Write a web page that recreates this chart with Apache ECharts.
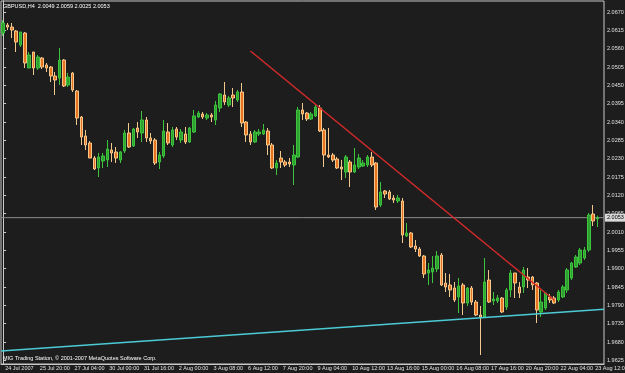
<!DOCTYPE html>
<html>
<head>
<meta charset="utf-8">
<script src="https://cdn.jsdelivr.net/npm/echarts@6/dist/echarts.min.js"></script>
<style>
  html, body { margin: 0; padding: 0; background: #1d1d1d; }
  #chart { width: 625px; height: 373px; }
</style>
</head>
<body>
<div id="chart"></div>
<script>
// GBPUSD H4, 24 Jul - 23 Aug 2007
const tickLabels = ['24 Jul 2007', '25 Jul 20:00', '27 Jul 04:00', '30 Jul 00:00', '31 Jul 16:00', '2 Aug 00:00',
  '3 Aug 08:00', '6 Aug 12:00', '7 Aug 20:00', '9 Aug 04:00', '10 Aug 12:00', '13 Aug 16:00', '15 Aug 00:00',
  '16 Aug 08:00', '17 Aug 16:00', '20 Aug 20:00', '22 Aug 04:00', '23 Aug 12:00']

const opens = [
  2.0607, 2.0631, 2.0625, 2.0613, 2.0571, 2.0607, 2.0502, 2.0550, 2.0502, 2.0532,
  2.0511, 2.0505, 2.0478, 2.0472, 2.0526, 2.0451, 2.0487, 2.0433, 2.0355, 2.0298,
  2.0277, 2.0232, 2.0202, 2.0223, 2.0226, 2.0256, 2.0250, 2.0226, 2.0253, 2.0307,
  2.0268, 2.0322, 2.0307, 2.0346, 2.0292, 2.0286, 2.0220, 2.0238, 2.0310, 2.0271,
  2.0319, 2.0286, 2.0304, 2.0280, 2.0310, 2.0355, 2.0364, 2.0352, 2.0361, 2.0346,
  2.0382, 2.0421, 2.0391, 2.0421, 2.0406, 2.0430, 2.0340, 2.0304, 2.0280, 2.0304,
  2.0304, 2.0313, 2.0271, 2.0202, 2.0232, 2.0220, 2.0220, 2.0211, 2.0235, 2.0376,
  2.0367, 2.0349, 2.0358, 2.0382, 2.0316, 2.0241, 2.0241, 2.0229, 2.0205, 2.0190,
  2.0220, 2.0190, 2.0205, 2.0208, 2.0211, 2.0235, 2.0217, 2.0091, 2.0133, 2.0130,
  2.0112, 2.0103, 2.0103, 1.9998, 2.0007, 1.9968, 1.9959, 1.9938, 1.9887, 1.9890,
  1.9899, 1.9941, 1.9857, 1.9851, 1.9842, 1.9815, 1.9851, 1.9797, 1.9842, 1.9800,
  1.9761, 1.9755, 1.9866, 1.9803, 1.9803, 1.9812, 1.9785, 1.9836, 1.9887, 1.9845,
  1.9845, 1.9875, 1.9875, 1.9857, 1.9770, 1.9782, 1.9815, 1.9812, 1.9806, 1.9815,
  1.9836, 1.9872, 1.9905, 1.9917, 1.9932, 1.9956, 2.0064, 2.0049
]
const closes = [
  2.0637, 2.0625, 2.0616, 2.0580, 2.0610, 2.0517, 2.0541, 2.0502, 2.0535, 2.0505,
  2.0502, 2.0478, 2.0466, 2.0526, 2.0448, 2.0475, 2.0436, 2.0352, 2.0295, 2.0271,
  2.0232, 2.0199, 2.0235, 2.0238, 2.0259, 2.0247, 2.0232, 2.0250, 2.0307, 2.0265,
  2.0319, 2.0310, 2.0346, 2.0292, 2.0283, 2.0217, 2.0241, 2.0313, 2.0277, 2.0316,
  2.0295, 2.0310, 2.0280, 2.0322, 2.0358, 2.0367, 2.0355, 2.0361, 2.0355, 2.0391,
  2.0424, 2.0400, 2.0412, 2.0412, 2.0430, 2.0337, 2.0301, 2.0280, 2.0310, 2.0310,
  2.0316, 2.0271, 2.0202, 2.0217, 2.0220, 2.0211, 2.0214, 2.0241, 2.0376, 2.0364,
  2.0349, 2.0364, 2.0385, 2.0313, 2.0241, 2.0235, 2.0226, 2.0202, 2.0199, 2.0235,
  2.0190, 2.0211, 2.0232, 2.0217, 2.0235, 2.0211, 2.0085, 2.0130, 2.0124, 2.0109,
  2.0106, 2.0112, 2.0001, 2.0007, 1.9965, 1.9959, 1.9938, 1.9884, 1.9896, 1.9902,
  1.9938, 1.9851, 1.9845, 1.9836, 1.9806, 1.9848, 1.9797, 1.9842, 1.9800, 1.9761,
  1.9755, 1.9860, 1.9800, 1.9809, 1.9812, 1.9770, 1.9836, 1.9887, 1.9857, 1.9827,
  1.9896, 1.9866, 1.9851, 1.9776, 1.9800, 1.9827, 1.9806, 1.9797, 1.9830, 1.9845,
  1.9896, 1.9917, 1.9935, 1.9956, 1.9956, 2.0061, 2.0043, 2.0053
]
const lows = [
  2.0598, 2.0616, 2.0592, 2.0550, 2.0565, 2.0502, 2.0502, 2.0481, 2.0496, 2.0499,
  2.0490, 2.0460, 2.0421, 2.0451, 2.0445, 2.0445, 2.0430, 2.0331, 2.0271, 2.0256,
  2.0232, 2.0196, 2.0175, 2.0202, 2.0205, 2.0220, 2.0217, 2.0217, 2.0247, 2.0262,
  2.0265, 2.0292, 2.0280, 2.0280, 2.0274, 2.0211, 2.0199, 2.0232, 2.0271, 2.0265,
  2.0286, 2.0277, 2.0274, 2.0277, 2.0307, 2.0352, 2.0349, 2.0346, 2.0340, 2.0331,
  2.0370, 2.0391, 2.0385, 2.0385, 2.0400, 2.0325, 2.0280, 2.0271, 2.0277, 2.0298,
  2.0301, 2.0241, 2.0199, 2.0181, 2.0202, 2.0205, 2.0205, 2.0151, 2.0232, 2.0346,
  2.0343, 2.0346, 2.0355, 2.0310, 2.0205, 2.0232, 2.0220, 2.0199, 2.0166, 2.0172,
  2.0145, 2.0187, 2.0199, 2.0205, 2.0205, 2.0205, 2.0076, 2.0085, 2.0112, 2.0106,
  2.0097, 2.0097, 1.9977, 1.9995, 1.9962, 1.9950, 1.9935, 1.9872, 1.9851, 1.9857,
  1.9890, 1.9848, 1.9830, 1.9815, 1.9800, 1.9767, 1.9761, 1.9788, 1.9791, 1.9758,
  1.9641, 1.9755, 1.9797, 1.9791, 1.9797, 1.9767, 1.9776, 1.9815, 1.9812, 1.9812,
  1.9827, 1.9842, 1.9836, 1.9737, 1.9755, 1.9776, 1.9797, 1.9794, 1.9800, 1.9812,
  1.9827, 1.9866, 1.9902, 1.9911, 1.9926, 1.9950, 2.0028, 2.0025
]
const highs = [
  2.0646, 2.0637, 2.0637, 2.0616, 2.0610, 2.0610, 2.0550, 2.0550, 2.0541, 2.0535,
  2.0517, 2.0508, 2.0490, 2.0562, 2.0529, 2.0487, 2.0490, 2.0436, 2.0358, 2.0316,
  2.0283, 2.0238, 2.0247, 2.0247, 2.0286, 2.0277, 2.0265, 2.0253, 2.0316, 2.0337,
  2.0322, 2.0340, 2.0373, 2.0355, 2.0307, 2.0292, 2.0250, 2.0346, 2.0337, 2.0325,
  2.0325, 2.0319, 2.0325, 2.0325, 2.0376, 2.0373, 2.0370, 2.0367, 2.0367, 2.0403,
  2.0427, 2.0460, 2.0418, 2.0442, 2.0436, 2.0457, 2.0343, 2.0313, 2.0316, 2.0319,
  2.0334, 2.0322, 2.0277, 2.0226, 2.0253, 2.0226, 2.0232, 2.0271, 2.0385, 2.0397,
  2.0370, 2.0370, 2.0391, 2.0391, 2.0322, 2.0322, 2.0247, 2.0235, 2.0226, 2.0241,
  2.0226, 2.0262, 2.0244, 2.0226, 2.0241, 2.0250, 2.0220, 2.0160, 2.0136, 2.0136,
  2.0121, 2.0121, 2.0112, 2.0037, 2.0010, 1.9986, 1.9965, 1.9941, 1.9917, 1.9938,
  1.9953, 1.9947, 1.9887, 1.9884, 1.9860, 1.9872, 1.9857, 1.9845, 1.9848, 1.9806,
  1.9788, 1.9932, 1.9896, 1.9830, 1.9821, 1.9815, 1.9842, 1.9896, 1.9887, 1.9860,
  1.9905, 1.9902, 1.9878, 1.9860, 1.9836, 1.9830, 1.9824, 1.9818, 1.9836, 1.9851,
  1.9902, 1.9920, 1.9941, 1.9962, 1.9965, 2.0067, 2.0091, 2.0059
]

const priceTicks = [1.9625, 1.9680, 1.9735, 1.9790, 1.9845, 1.9900, 1.9955, 2.0010, 2.0065, 2.0120,
  2.0175, 2.0230, 2.0285, 2.0340, 2.0395, 2.0450, 2.0505, 2.0560, 2.0615, 2.0670]

const lastPrice = 2.0053
const priceLine = [[-0.5, lastPrice], [138.5, lastPrice]]
const redTrend = [[57, 2.0553], [127, 1.9806]]
const cyanTrend = [[-0.5, 1.9653], [138.5, 1.9778]]

const slots = opens.length + 1 // one empty slot at the right edge
const categories = []
for (let i = 0; i < slots; i++) {
  categories.push(i % 8 === 0 && tickLabels[i / 8] ? tickLabels[i / 8] : '')
}
const candles = opens.map((o, i) => [o, closes[i], lows[i], highs[i]])

const fontFamily = 'Liberation Sans'
const axisColor = '#c8c8c8'

const chart = echarts.init(document.getElementById('chart'))
chart.setOption({
  backgroundColor: '#1d1d1d',
  animation: false,
  title: [
    {
      text: 'GBPUSD,H4  2.0049 2.0059 2.0025 2.0053',
      left: 3, top: 3, padding: 0,
      textStyle: { color: '#ffffff', fontSize: 5.5, fontWeight: 'normal', fontFamily }
    },
    {
      text: 'MIG Trading Station, © 2001-2007 MetaQuotes Software Corp.',
      left: 3, top: 355, padding: 0,
      textStyle: { color: '#ffffff', fontSize: 5.5, fontWeight: 'normal', fontFamily }
    }
  ],
  grid: {
    left: 1, right: 21, top: 1, bottom: 9,
    outerBoundsMode: 'none',
    containLabel: false,
    show: true, borderColor: axisColor, borderWidth: 1
  },
  xAxis: [
    {
      type: 'category',
      data: categories,
      boundaryGap: true,
      axisLine: { lineStyle: { color: axisColor } },
      axisTick: { alignWithLabel: true, interval: 7, length: 3, lineStyle: { color: axisColor } },
      axisLabel: {
        interval: 7, align: 'left', margin: 1, padding: [0, 0, 0, 2],
        color: '#e0e0e0', fontSize: 5.5, fontFamily
      },
      splitLine: { show: false }
    },
    { type: 'value', min: -0.5, max: 138.5, show: false }
  ],
  yAxis: {
    type: 'value',
    position: 'right',
    min: 1.9614,
    max: 2.0703,
    scale: true,
    axisLine: { show: true, lineStyle: { color: axisColor } },
    axisTick: { show: true, length: 3, customValues: priceTicks, lineStyle: { color: axisColor } },
    axisLabel: {
      customValues: priceTicks, margin: 3,
      color: '#e0e0e0', fontSize: 5.5, fontFamily,
      formatter: v => v.toFixed(4)
    },
    splitLine: { show: false }
  },
  series: [
    {
      type: 'line',
      xAxisIndex: 1,
      data: priceLine,
      symbol: 'none',
      silent: true,
      z: 1,
      lineStyle: { color: '#8c8c8c', width: 1 },
      endLabel: {
        show: true,
        distance: 1,
        formatter: () => lastPrice.toFixed(4),
        color: '#000000', backgroundColor: '#d8d8d8',
        fontSize: 5.5, fontFamily, padding: [1, 2]
      }
    },
    {
      type: 'candlestick',
      data: candles,
      barWidth: 3,
      z: 3,
      itemStyle: {
        color: '#2f9f2f',
        borderColor: '#3cc43c',
        color0: '#e8731e',
        borderColor0: '#f2c88c',
        borderWidth: 1
      }
    },
    {
      type: 'line',
      xAxisIndex: 1,
      data: redTrend,
      symbol: 'none',
      silent: true,
      z: 4,
      lineStyle: { color: '#d42a2a', width: 1.5 }
    },
    {
      type: 'line',
      xAxisIndex: 1,
      data: cyanTrend,
      symbol: 'none',
      silent: true,
      z: 4,
      lineStyle: { color: '#4ccbd6', width: 1.5 }
    }
  ]
})
</script>
</body>
</html>
